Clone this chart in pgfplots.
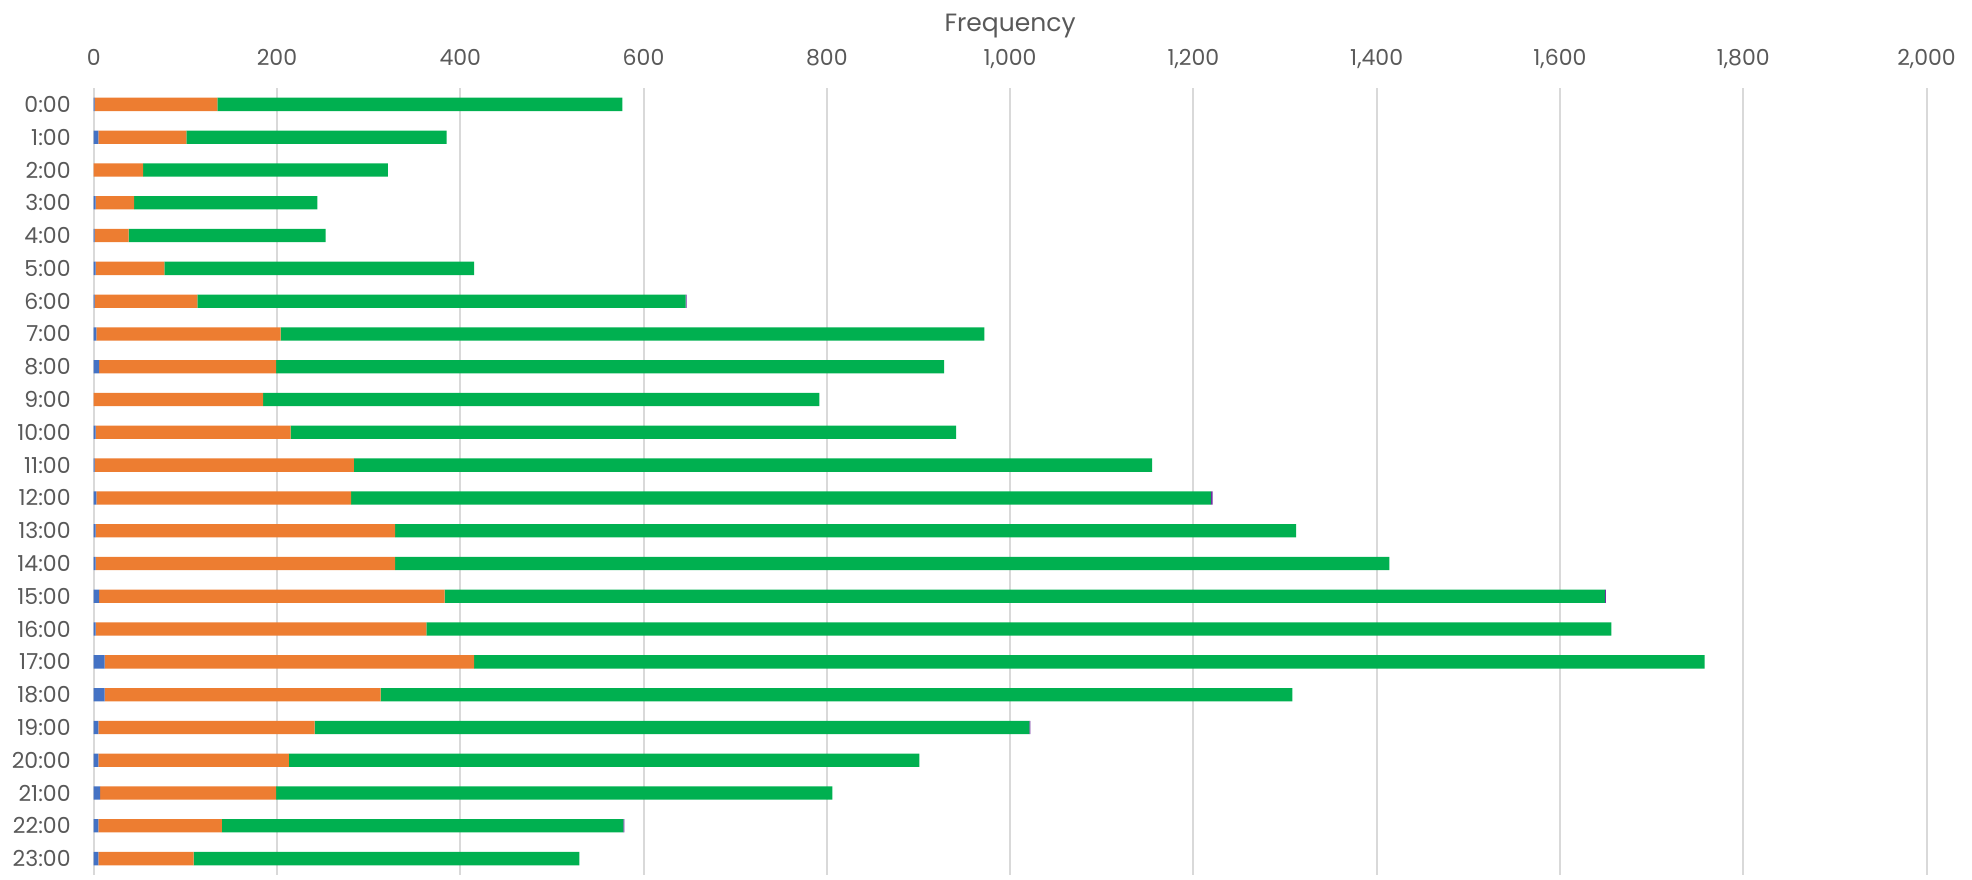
\documentclass[border=0pt]{standalone}
\usepackage{fontspec}
\setmainfont{Poppins}
\usepackage{pgfplots}
\usepackage{pgfplotstable}
\pgfplotsset{compat=1.18}
\definecolor{sblue}{HTML}{4472C4}
\definecolor{sorange}{HTML}{ED7D31}
\definecolor{sgreen}{HTML}{00B050}
\definecolor{spurple}{HTML}{7030A0}
\definecolor{txtgray}{HTML}{595959}
\definecolor{gridgray}{HTML}{D9D9D9}
\pgfplotstableread{
idx blue orange green purple
0 1 134 442 0
1 5 96 284 0
2 0 54 267 0
3 2 42 200 0
4 1 37 215 0
5 2 75 338 0
6 1 112 533 1
7 3 201 768 0
8 6 193 729 0
9 0 185 607 0
10 2 213 726 0
11 1 283 871 0
12 3 278 938 2
13 2 327 983 0
14 2 327 1085 0
15 6 377 1266 1
16 2 361 1293 0
17 12 403 1343 0
18 12 301 995 0
19 5 236 780 1
20 5 208 688 0
21 7 192 607 0
22 5 135 438 1
23 5 104 421 0
}\datatable
\begin{document}
\begin{tikzpicture}
\path[use as bounding box] (0,0) rectangle (986pt,439.5pt);
\begin{axis}[
  at={(46.85pt,2pt)}, anchor=south west,
  scale only axis,
  width=916.4pt, height=393.5pt,
  xbar stacked,
  bar width=0.406,
  xmin=0, xmax=2000,
  ymin=-0.5, ymax=23.5,
  y dir=reverse,
  xtick={0,200,...,2000},
  ytick={0,...,23},
  yticklabels={0:00,1:00,2:00,3:00,4:00,5:00,6:00,7:00,8:00,9:00,10:00,11:00,12:00,13:00,14:00,15:00,16:00,17:00,18:00,19:00,20:00,21:00,22:00,23:00},
  xticklabel pos=upper,
  axis line style={draw=none},
  major tick length=0pt,
  xmajorgrids=true,
  ymajorgrids=false,
  x grid style={draw=gridgray, line width=1pt},
  /pgf/number format/.cd, 1000 sep={,}, assume math mode=true,
  /pgfplots/.cd,
  tick label style={font=\fontsize{11}{13}\selectfont, text=txtgray, inner sep=0pt},
  xticklabel style={anchor=base, yshift=11.5pt},
  yticklabel style={anchor=east, xshift=-11.35pt},
  xlabel={Frequency},
  xlabel style={at={(axis description cs:0.5,1)}, anchor=base, yshift=28.5pt, font=\fontsize{12.5}{14}\selectfont, text=txtgray, inner sep=0pt},
  every axis plot/.append style={draw=none},
]
\addplot[fill=sblue] table[x=blue, y=idx] {\datatable};
\addplot[fill=sorange] table[x=orange, y=idx] {\datatable};
\addplot[fill=sgreen] table[x=green, y=idx] {\datatable};
\addplot[fill=spurple] table[x=purple, y=idx] {\datatable};
\end{axis}
\end{tikzpicture}
\end{document}
